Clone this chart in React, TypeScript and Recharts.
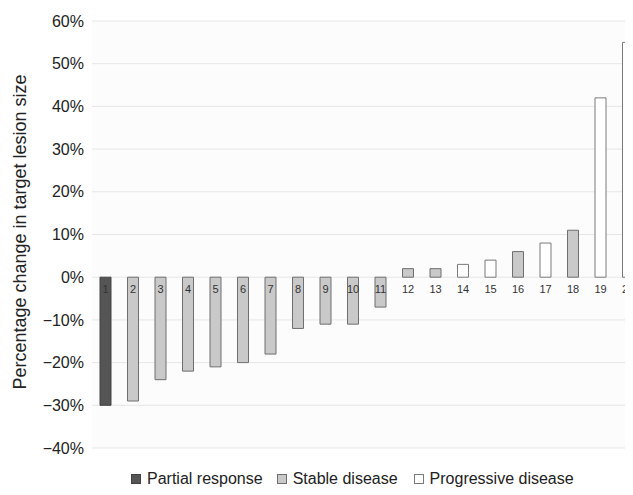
import React from 'react';
import { BarChart, Bar, XAxis, YAxis, CartesianGrid, Cell, LabelList } from 'recharts';

const patients = ['1', '2', '3', '4', '5', '6', '7', '8', '9', '10', '11', '12', '13', '14', '15', '16', '17', '18', '19', '20'];
const changes = [-30, -29, -24, -22, -21, -20, -18, -12, -11, -11, -7, 2, 2, 3, 4, 6, 8, 11, 42, 55];
const responses = ['PR', 'SD', 'SD', 'SD', 'SD', 'SD', 'SD', 'SD', 'SD', 'SD', 'SD', 'SD', 'SD', 'PD', 'PD', 'SD', 'PD', 'SD', 'PD', 'PD'];
const yTicks = [-40, -30, -20, -10, 0, 10, 20, 30, 40, 50, 60];

const responseKeys = ['PR', 'SD', 'PD'];
const responseNames = ['Partial response', 'Stable disease', 'Progressive disease'];
const responseFill: Record<string, string> = { PR: '#555555', SD: '#c9c9c9', PD: '#ffffff' };
const responseStroke: Record<string, string> = { PR: '#444444', SD: '#6f6f6f', PD: '#7a7a7a' };

const data = patients.map((p, i) => ({ id: p, change: changes[i], response: responses[i] }));

const FONT = 'Liberation Sans, Arial, Helvetica, sans-serif';
const fmt = (v: number) => (v < 0 ? `\u2212${Math.abs(v)}%` : `${v}%`);

const BarLabel = (props: any) => {
  const { x, y, width, height, value, index } = props;
  const v = changes[index];
  const top = Math.min(y, y + height);
  const bottom = Math.max(y, y + height);
  const zero = v >= 0 ? bottom : top;
  return (
    <text x={x + width / 2} y={zero + 16} textAnchor="middle" fontSize={11} fill="#333" fontFamily={FONT}>
      {value}
    </text>
  );
};

const YLabel = (props: any) => {
  const { viewBox } = props;
  const cx = viewBox.x + 17.5;
  const cy = viewBox.y + viewBox.height / 2 - 2.5;
  return (
    <text x={cx} y={cy} transform={`rotate(-90, ${cx}, ${cy})`} textAnchor="middle" fontSize={18} fill="#222" fontFamily={FONT}>
      Percentage change in target lesion size
    </text>
  );
};

export default function App() {
  return (
    <div style={{ width: 625, height: 487, position: 'relative', marginBottom: -8, fontFamily: FONT }}>
      <style>{`html,body{overflow:hidden}`}</style>
      <div style={{ width: 625, height: 487, overflow: 'hidden' }}>
        <BarChart width={640} height={487} data={data} margin={{ top: 13, right: 6, bottom: 47, left: 0 }} barSize={11}>
          <CartesianGrid vertical={false} stroke="#e6e6e6" fill="#fcfcfc" />
          <XAxis dataKey="id" hide />
          <YAxis
            width={84}
            domain={[-40, 60]}
            ticks={yTicks}
            tickFormatter={fmt}
            axisLine={false}
            tickLine={false}
            tick={{ fontSize: 16, fill: '#222', fontFamily: FONT }}
            interval={0}
            label={<YLabel />}
          />
          <Bar dataKey="change" isAnimationActive={false} strokeWidth={1}>
            {data.map((d, i) => (
              <Cell key={i} fill={responseFill[d.response]} stroke={responseStroke[d.response]} />
            ))}
            <LabelList dataKey="id" content={<BarLabel />} />
          </Bar>
        </BarChart>
      </div>
      <div style={{ position: 'absolute', left: 123, top: 462, display: 'flex', alignItems: 'center', fontSize: 16, lineHeight: '18px', color: '#222', whiteSpace: 'nowrap' }}>
        {responseKeys.map((k, i) => (
          <div key={k} style={{ display: 'flex', alignItems: 'center', marginRight: i === 0 ? 14 : 16 }}>
            <svg width={10} height={10} style={{ marginRight: 6 }}>
              <rect x={0.5} y={0.5} width={9} height={9} fill={responseFill[k]} stroke={responseStroke[k]} />
            </svg>
            <span>{responseNames[i]}</span>
          </div>
        ))}
      </div>
    </div>
  );
}
